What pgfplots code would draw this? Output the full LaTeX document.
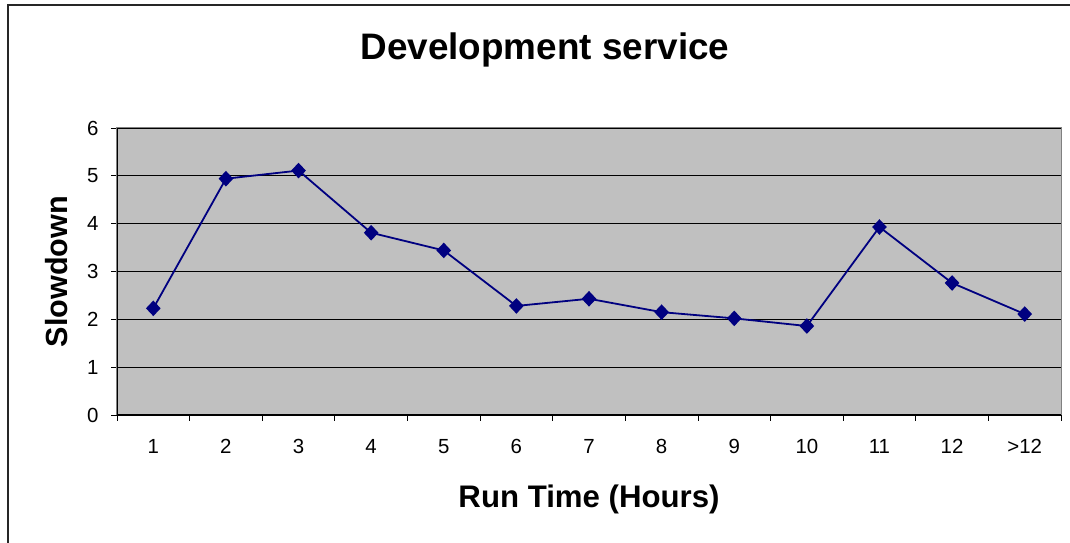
\documentclass[border=0pt]{standalone}
\usepackage{pgfplots}
\pgfplotsset{compat=1.18}
\usepackage{fontspec}
\setmainfont{Liberation Sans}
\definecolor{navy}{HTML}{000080}
\definecolor{plotbg}{HTML}{C0C0C0}
\definecolor{framegray}{HTML}{808080}
\begin{document}
\begin{tikzpicture}[x=1bp,y=1bp]
\begin{axis}[
  at={(0,0)}, anchor=south west,
  width=944bp, height=287bp, scale only axis,
  xmin=0.5, xmax=13.5, ymin=0, ymax=6,
  clip=false,
  axis background/.style={fill=plotbg},
  axis line style={draw=framegray, line width=1bp},
  xtick={0.5,1.5,...,13.5}, xticklabels={},
  extra x ticks={1,2,3,4,5,6,7,8,9,10,11,12,13},
  extra x tick labels={1,2,3,4,5,6,7,8,9,10,11,12,{>12}},
  extra x tick style={major tick length=0pt, grid=none,
    xticklabel style={anchor=base, yshift=-38.3bp}},
  ytick={0,1,2,3,4,5,6},
  ymajorgrids, grid style={black, line width=0.75bp},
  xtick pos=left, ytick pos=left,
  tick align=outside, major tick length=6bp,
  tick style={black, line width=0.75bp},
  ticklabel style={font=\fontsize{20.5}{24}\selectfont},
  yticklabel style={anchor=east, xshift=-9bp},
  /pgf/number format/assume math mode=true,
  title={Development service},
  title style={font=\bfseries\fontsize{37}{44}\selectfont, at={(rel axis cs:0.4533,1.2194)}, anchor=base, yshift=0pt},
  xlabel={Run Time (Hours)},
  xlabel style={font=\bfseries\fontsize{31.3}{37}\selectfont, at={(rel axis cs:0.5,-0.3217)}, anchor=base, yshift=0pt},
  ylabel={Slowdown},
  ylabel style={font=\bfseries\fontsize{30.7}{36}\selectfont, at={(rel axis cs:-0.0636,0.5)}, anchor=center, xshift=0pt, yshift=0pt},
]
\addplot[color=navy, line width=1.8bp, mark=diamond*,
  mark options={fill=navy, draw=navy, mark size=6.5bp, xscale=1.25, solid}]
  coordinates {
  (1,2.23) (2,4.94) (3,5.11) (4,3.81) (5,3.44) (6,2.28) (7,2.43)
  (8,2.15) (9,2.02) (10,1.86) (11,3.93) (12,2.76) (13,2.11)
  };
\end{axis}
\draw[black, line width=1bp] (0,287) -- (0,0) -- (944,0);
\draw[black!85, line width=1.6bp] (-109,-200) -- (-109,410) -- (1100,410);
\pgfresetboundingbox
\useasboundingbox (-117,-128) rectangle (953,415);
\end{tikzpicture}
\end{document}
